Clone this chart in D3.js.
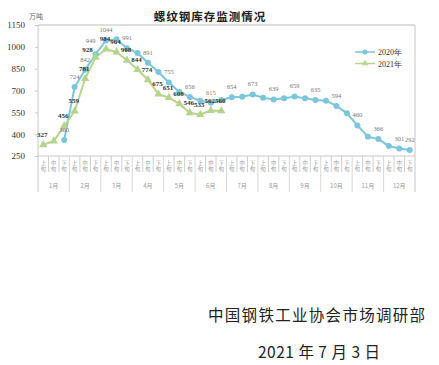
<!DOCTYPE html>
<html><head><meta charset="utf-8">
<script src="https://cdn.jsdelivr.net/npm/d3@7"></script>
<style>
html,body{margin:0;padding:0;background:#fff;}
svg{display:block;}
</style></head>
<body>
<svg id="c" width="439" height="365"></svg>
<script>
const months = ["1月","2月","3月","4月","5月","6月","7月","8月","9月","10月","11月","12月"];
const decades = ["上旬","中旬","下旬"];
const yTicks = [250,400,550,700,850,1000,1150];
const values2020 = [null,null,360,724,842,949,1044,1052,991,958,891,827,755,690,656,630,615,635,654,657,673,650,639,646,659,646,635,630,594,543,460,383,366,319,301,292];
const values2021 = [327,352,456,559,781,928,984,964,908,844,774,675,651,608,546,535,562,560];
const labeled2020 = [2,3,4,5,6,8,10,12,14,16,18,20,22,24,26,28,30,32,34,35];
const labeled2021 = [0,2,3,4,5,6,7,8,9,10,11,12,13,14,15,16,17];
const seriesNames = ["2020年","2021年"];

const svg = d3.select("#c");
const L = 38, R = 415, T = 25, B = 156;
const cats = d3.range(months.length * decades.length);
const x = d3.scaleBand().domain(cats).range([L, R]);
const y = d3.scaleLinear().domain([250, 1150]).range([B, T]);
const cx = i => x(i) + x.bandwidth() / 2;
const blue = "#7cc6dc", green = "#b7d48c";
const axisCol = "#c8c8c8";
const serif = "'Liberation Serif','DejaVu Serif',serif";
const cjk = "'Noto Sans CJK SC','Noto Sans CJK JP',sans-serif";

// frame top & right
svg.append("line").attr("x1", L).attr("x2", R).attr("y1", T).attr("y2", T).attr("stroke", "#bdbdbd");
svg.append("line").attr("x1", R).attr("x2", R).attr("y1", T).attr("y2", 192).attr("stroke", axisCol);

// y axis
const yAxis = d3.axisLeft(y).tickValues(yTicks).tickFormat(d3.format("d")).tickSize(3).tickPadding(10);
const gy = svg.append("g").attr("transform", `translate(${L},0)`).call(yAxis);
gy.select(".domain").remove();
gy.selectAll(".tick line").attr("stroke", axisCol);
gy.selectAll(".tick text").attr("font-family", serif).attr("font-size", 9).attr("fill", "#333");
svg.append("line").attr("x1", L).attr("x2", L).attr("y1", T).attr("y2", 192).attr("stroke", axisCol);

// x axis baseline
svg.append("line").attr("x1", L).attr("x2", R).attr("y1", B).attr("y2", B).attr("stroke", axisCol);
// separators
cats.forEach(i => {
  if (i === 0) return;
  const xx = x(i);
  const isMonth = i % 3 === 0;
  svg.append("line").attr("x1", xx).attr("x2", xx).attr("y1", B).attr("y2", isMonth ? 192 : 172)
    .attr("stroke", isMonth ? "#d8d8d8" : "#cfcfcf");
});
// decade labels (vertical)
const dl = svg.append("g").attr("font-family", cjk).attr("font-size", 5.2).attr("fill", "#999").attr("text-anchor", "middle");
cats.forEach(i => {
  const t = dl.append("text").attr("x", cx(i));
  const s = decades[i % 3];
  t.append("tspan").attr("x", cx(i)).attr("y", 164.5).text(s[0]);
  t.append("tspan").attr("x", cx(i)).attr("y", 170.5).text(s[1]);
});
// month labels
svg.append("g").selectAll("text").data(months).join("text")
  .attr("x", (d, m) => (x(m * 3) + x(m * 3 + 2) + x.bandwidth()) / 2)
  .attr("y", 187.5).attr("text-anchor", "middle")
  .attr("font-family", cjk).attr("font-size", 6).attr("fill", "#999").text(d => d);

// lines
const d20 = values2020.map((v, i) => ({i, v})).filter(d => d.v != null);
const d21 = values2021.map((v, i) => ({i, v}));
const line = d3.line().x(d => cx(d.i)).y(d => y(d.v));
svg.append("path").datum(d20).attr("d", line).attr("fill", "none").attr("stroke", blue).attr("stroke-width", 2);
svg.append("path").datum(d21).attr("d", line).attr("fill", "none").attr("stroke", green).attr("stroke-width", 2);
svg.append("g").selectAll("circle").data(d20).join("circle")
  .attr("cx", d => cx(d.i)).attr("cy", d => y(d.v)).attr("r", 3).attr("fill", blue);
const tri = d3.symbol().type(d3.symbolTriangle).size(30);
svg.append("g").selectAll("path").data(d21).join("path")
  .attr("d", tri).attr("transform", d => `translate(${cx(d.i)},${y(d.v)})`).attr("fill", green);

// data labels
svg.append("g").selectAll("text").data(d20.filter(d => labeled2020.includes(d.i))).join("text")
  .attr("x", d => cx(d.i) - (d.i === 5 ? 5 : 0)).attr("y", d => y(d.v) - (d.i === 5 ? 11 : 8))
  .attr("text-anchor", "middle").attr("font-family", serif).attr("font-size", 6.5).attr("fill", "#777")
  .text(d => d.v);
svg.append("g").selectAll("text").data(d21.filter(d => labeled2021.includes(d.i))).join("text")
  .attr("x", d => cx(d.i) - (d.i === 5 ? 8 : 1)).attr("y", d => y(d.v) - (d.i === 5 ? 5 : 8))
  .attr("text-anchor", "middle").attr("font-family", serif).attr("font-size", 7).attr("font-weight", "bold").attr("fill", "#333")
  .text(d => d.v);

// legend
const lg = svg.append("g");
[[blue, "c"], [green, "t"]].forEach((s, k) => {
  const ly = 52 + k * 11.5;
  lg.append("line").attr("x1", 355).attr("x2", 375).attr("y1", ly).attr("y2", ly).attr("stroke", s[0]).attr("stroke-width", 1.5);
  if (s[1] === "c") lg.append("circle").attr("cx", 365).attr("cy", ly).attr("r", 2.5).attr("fill", s[0]);
  else lg.append("path").attr("d", d3.symbol().type(d3.symbolTriangle).size(18)).attr("transform", `translate(365,${ly})`).attr("fill", s[0]);
  lg.append("text").attr("x", 378).attr("y", ly + 3).attr("font-family", serif).attr("font-size", 8).attr("fill", "#333").text(seriesNames[k]);
});

// title & unit
svg.append("text").attr("x", 210).attr("y", 21).attr("text-anchor", "middle")
  .attr("font-family", cjk).attr("font-size", 11.5).attr("font-weight", "bold").attr("letter-spacing", 1).attr("fill", "#222")
  .text("螺纹钢库存监测情况");
svg.append("text").attr("x", 29).attr("y", 19).attr("font-family", cjk).attr("font-size", 7).attr("fill", "#666").text("万吨");

// footer
svg.append("text").attr("x", 208).attr("y", 321).attr("font-family", cjk).attr("font-size", 15.5).attr("letter-spacing", 1.3).attr("fill", "#222")
  .text("中国钢铁工业协会市场调研部");
svg.append("text").attr("x", 258).attr("y", 358).attr("font-family", cjk).attr("font-size", 15.5).attr("letter-spacing", 0.5).attr("fill", "#222")
  .attr("xml:space", "preserve").text("2021 年 7 月 3 日");
</script>
</body></html>
